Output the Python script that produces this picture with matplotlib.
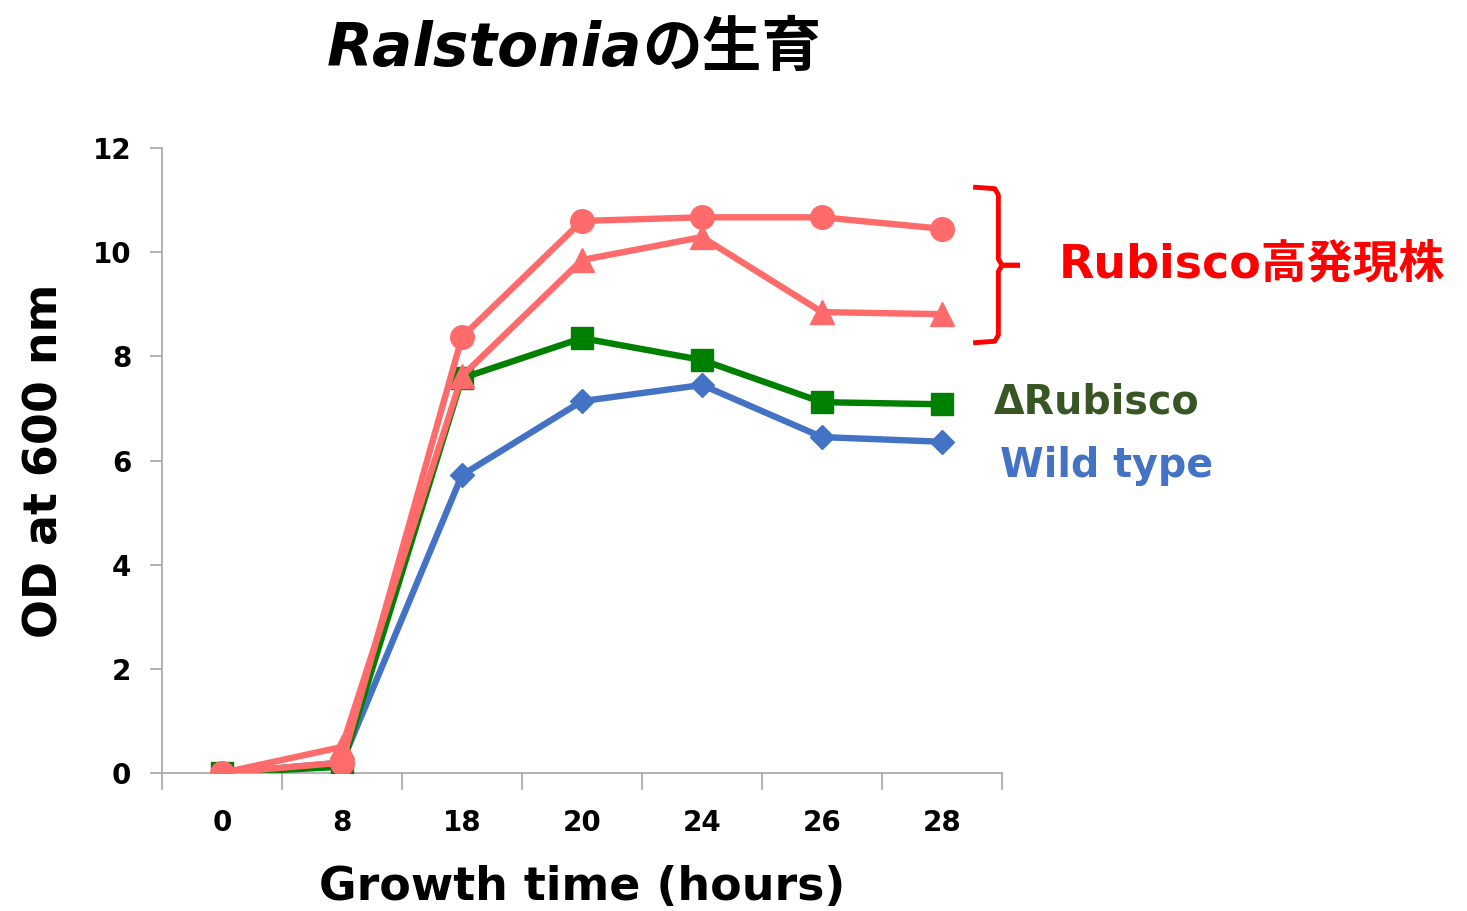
import numpy as np
import matplotlib
matplotlib.use("Agg")
import matplotlib.pyplot as plt

# =========================================================
# Data
# =========================================================
time_labels = ["0", "8", "18", "20", "24", "26", "28"]
od_high_circle = [0.0, 0.2, 8.37, 10.6, 10.67, 10.67, 10.45]
od_high_triangle = [0.0, 0.5, 7.62, 9.85, 10.29, 8.85, 8.81]
od_delta_rubisco = [0.0, 0.12, 7.58, 8.35, 7.93, 7.12, 7.08]
od_wild_type = [0.0, 0.2, 5.72, 7.14, 7.45, 6.45, 6.36]

FONT = ['DejaVu Sans', 'Noto Sans CJK JP']
plt.rcParams['font.family'] = FONT
plt.rcParams['font.weight'] = 'bold'

PINK = '#FF6B6B'
GREEN = '#008000'
BLUE = '#4472C4'

# =========================================================
# Figure
# =========================================================
fig = plt.figure(figsize=(14.67, 9.11), dpi=100)
ax = fig.add_axes([0.1104, 0.1515, 0.5726, 0.686])

x = np.arange(len(time_labels))
ax.plot(x, od_wild_type, color=BLUE, lw=4.6, marker='D', ms=12, zorder=3)
ax.plot(x, od_delta_rubisco, color=GREEN, lw=4.6, marker='s', ms=16, zorder=4)
ax.plot(x, od_high_triangle, color=PINK, lw=4.6, marker='^', ms=17, zorder=5)
ax.plot(x, od_high_circle, color=PINK, lw=4.6, marker='o', ms=17, zorder=6)

ax.set_xlim(-0.5, len(time_labels) - 0.5)
ax.set_ylim(0, 12)
ax.set_yticks(np.arange(0, 13, 2))
ax.set_yticklabels([str(v) for v in range(0, 13, 2)], fontsize=20, fontweight='bold')

# category boundaries as major ticks, labels on minor ticks
ax.set_xticks(np.arange(-0.5, len(time_labels), 1.0))
ax.set_xticklabels([])
ax.set_xticks(x, minor=True)
ax.set_xticklabels(time_labels, minor=True, fontsize=20, fontweight='bold')
ax.tick_params(axis='x', which='minor', length=0, pad=26)
ax.tick_params(axis='x', which='major', length=12, width=1.2, color='#A6A6A6', direction='out')
ax.tick_params(axis='y', length=9, width=1.2, color='#A6A6A6', direction='out', pad=13)

for s in ['top', 'right']:
    ax.spines[s].set_visible(False)
for s in ['left', 'bottom']:
    ax.spines[s].set_color('#A6A6A6')
    ax.spines[s].set_linewidth(1.2)

ax.set_xlabel("Growth time (hours)", fontsize=33, fontweight='bold', labelpad=20)
ax.set_ylabel("OD at 600 nm", fontsize=33, fontweight='bold', labelpad=18)

# title: italic genus + Japanese text
fig.text(0.438, 0.946, "Ralstonia", fontsize=43, fontweight='bold', style='italic',
         ha='right', va='center')
fig.text(0.438, 0.946, "の生育", fontsize=43, fontweight='bold', ha='left', va='center')

# bracket for Rubisco over-expressing strains
bx0, bx1, bx2 = 6.26, 6.47, 6.65
ytop, ymid, ybot = 11.25, 9.75, 8.26
ax.plot([bx0, bx1 - 0.03, bx1, bx1, bx1 + 0.03, bx2], [ytop, ytop - 0.03, ytop - 0.15, ymid + 0.12, ymid, ymid],
        color='red', lw=3.5, clip_on=False, solid_capstyle='butt')
ax.plot([bx2, bx1 + 0.03, bx1, bx1, bx1 - 0.03, bx0], [ymid, ymid, ymid - 0.12, ybot + 0.15, ybot + 0.03, ybot],
        color='red', lw=3.5, clip_on=False, solid_capstyle='butt')

ax.text(6.97, ymid, "Rubisco高発現株", color='red', fontsize=33, fontweight='bold',
        ha='left', va='center', clip_on=False)
ax.text(6.43, 7.12, "ΔRubisco", color='#375623', fontsize=28.5, fontweight='bold',
        ha='left', va='center', clip_on=False)
ax.text(6.48, 5.9, "Wild type", color=BLUE, fontsize=28.5, fontweight='bold',
        ha='left', va='center', clip_on=False)

fig.savefig("out.png", dpi=100)
